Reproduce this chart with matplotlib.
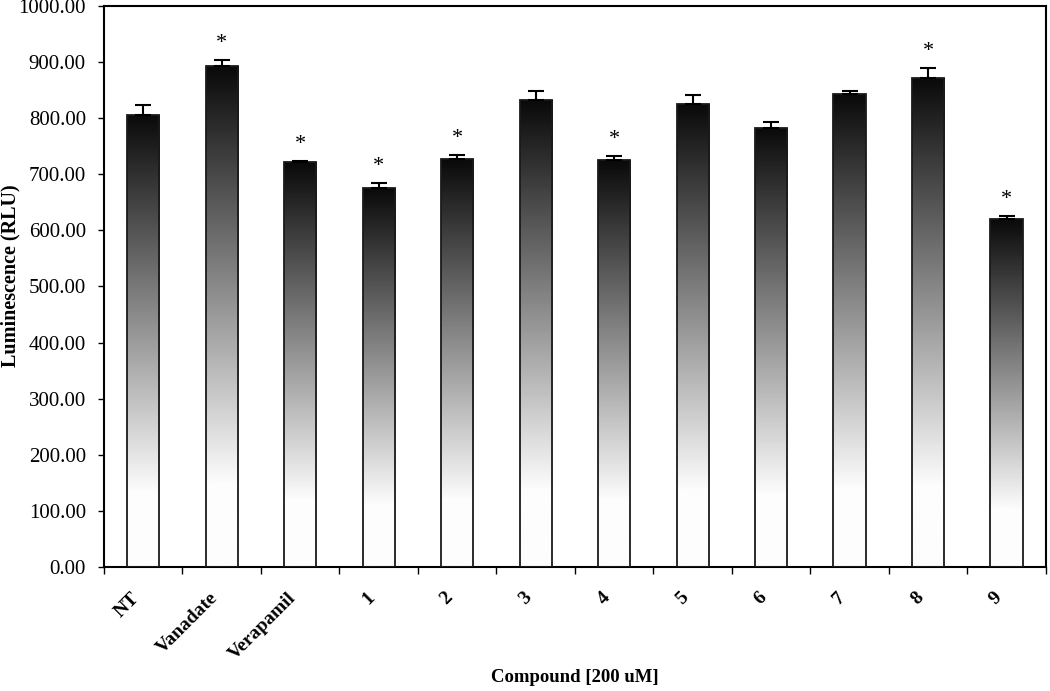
import matplotlib.pyplot as plt
import matplotlib.transforms as mtransforms
import numpy as np

categories = ["NT", "Vanadate", "Verapamil", "1", "2", "3", "4", "5", "6", "7", "8", "9"]
values = [806, 892, 721, 675, 727, 832, 725, 825, 783, 843, 872, 620]
errors = [17, 12, 3, 10, 8, 17, 8, 17, 10, 6, 17, 6]
significant = [False, True, True, True, True, False, True, False, False, False, True, True]
y_ticks = np.arange(0, 1001, 100)

plt.rcParams["font.family"] = ["Liberation Serif", "DejaVu Serif"]

fig = plt.figure(figsize=(10.5, 6.91), dpi=100)
ax = fig.add_axes([0.099, 0.1795, 0.897, 0.812])

x = np.arange(len(categories))
width = 0.41
bars = ax.bar(x, values, width=width, color="none", edgecolor="#1a1a1a", linewidth=1.3, zorder=3)

# vertical gradient inside each bar: black at the top, white near the base
t = np.linspace(0, 1, 256)
grad = np.clip(0.04 + t / 0.88, 0, 0.99).reshape(-1, 1)
for b in bars:
    x0, h = b.get_x(), b.get_height()
    im = ax.imshow(grad, cmap="gray", vmin=0, vmax=1.0, aspect="auto",
                   extent=(x0, x0 + b.get_width(), 0, h), origin="upper",
                   zorder=2, interpolation="bilinear")
    im.set_clip_path(b)

ax.errorbar(x, values, yerr=[np.zeros(len(errors)), errors], fmt="none",
            ecolor="black", elinewidth=1.5, capsize=6, capthick=1.5, zorder=4)

for xi, v, e, s in zip(x, values, errors, significant):
    if s:
        ax.text(xi, v + e + 12, "*", ha="center", va="bottom", fontsize=16)

ax.set_xlim(-0.5, len(categories) - 0.5)
ax.set_ylim(0, 1000)
ax.set_yticks(y_ticks)
ax.set_yticklabels([f"{t:.2f}" for t in y_ticks], fontsize=15)
ax.tick_params(axis="y", direction="out", length=4, width=1, pad=9)

ax.set_xticks(np.arange(len(categories) + 1) - 0.5)
ax.set_xticklabels([])
ax.tick_params(axis="x", which="major", direction="out", length=5, width=1)
ax.set_xticks(x, minor=True)
ax.set_xticklabels(categories, minor=True, rotation=45, ha="right",
                   rotation_mode="anchor", fontsize=14, fontweight="bold")
ax.tick_params(axis="x", which="minor", length=0, pad=16)
shift = mtransforms.ScaledTranslation(-13 / 100, 0, fig.dpi_scale_trans)
for lbl in ax.get_xticklabels(minor=True):
    lbl.set_transform(lbl.get_transform() + shift)

for sp in ax.spines.values():
    sp.set_linewidth(1.5)

ax.set_ylabel("Luminescence (RLU)", fontsize=14.5, fontweight="bold")
ax.yaxis.set_label_coords(-0.0885, 0.519)
ax.set_xlabel("Compound [200 uM]", fontsize=13.5, fontweight="bold")
ax.xaxis.set_label_coords(0.5, -0.182)

fig.savefig("out.png", dpi=100)
